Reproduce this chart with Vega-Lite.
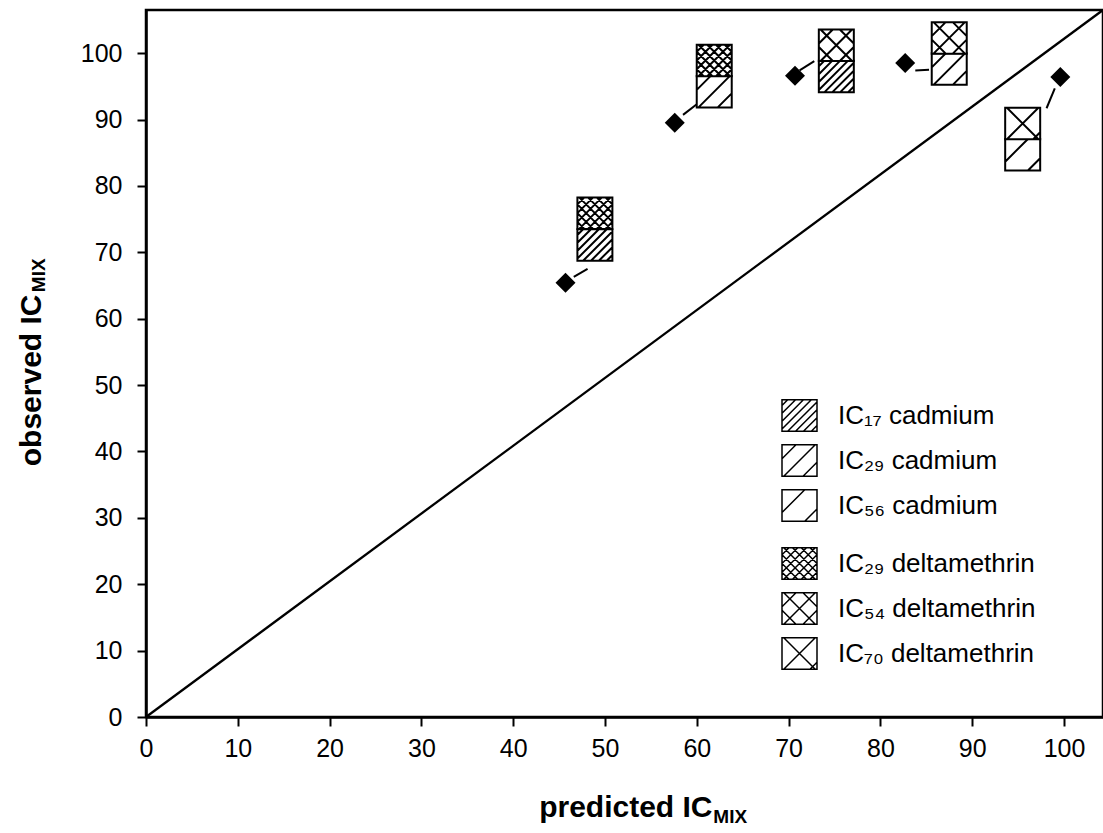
{
  "$schema": "https://vega.github.io/schema/vega-lite/v6.json",
  "autosize": "none",
  "width": 957,
  "height": 707,
  "padding": {"left": 146, "top": 10, "right": 0, "bottom": 116},
  "background": "white",
  "config": {
    "font": "Liberation Sans",
    "view": {"stroke": "black", "strokeWidth": 2.5},
    "axis": {
      "grid": false,
      "domainColor": "black",
      "domainWidth": 2.5,
      "tickColor": "black",
      "tickWidth": 2,
      "tickSize": 9,
      "labelColor": "black",
      "labelFontSize": 25,
      "labelFont": "Liberation Sans",
      "labelFlush": false,
      "labelOverlap": false,
      "titleColor": "black",
      "titleFont": "Liberation Sans",
      "titleFontSize": 30,
      "titleFontWeight": "bold"
    },
    "legend": {
      "labelFont": "Liberation Sans",
      "labelFontSize": 26,
      "labelColor": "black",
      "labelLimit": 400
    }
  },
  "data": {"values": [{}]},
  "datasets": {
    "diagonal": [
      {"pred": 0, "obs": 0},
      {"pred": 104.25, "obs": 106.5}
    ],
    "links": [
      {"pred": 46.6, "obs": 66.3, "pred2": 48.1, "obs2": 67.5},
      {"pred": 58.5, "obs": 90.7, "pred2": 60.0, "obs2": 92.3},
      {"pred": 71.2, "obs": 97.4, "pred2": 72.8, "obs2": 98.8},
      {"pred": 83.8, "obs": 97.4, "pred2": 85.3, "obs2": 97.5},
      {"pred": 99.0, "obs": 94.7, "pred2": 98.1, "obs2": 91.7}
    ],
    "points": [
      {"pred": 45.7, "obs": 65.4},
      {"pred": 57.6, "obs": 89.5},
      {"pred": 70.7, "obs": 96.6},
      {"pred": 82.7, "obs": 98.5},
      {"pred": 99.6, "obs": 96.4}
    ],
    "cadmium": [
      {"pred": 48.9, "obs": 71.1, "agent": "IC₁₇ cadmium"},
      {"pred": 61.9, "obs": 94.2, "agent": "IC₂₉ cadmium"},
      {"pred": 75.2, "obs": 96.5, "agent": "IC₁₇ cadmium"},
      {"pred": 87.5, "obs": 97.6, "agent": "IC₂₉ cadmium"},
      {"pred": 95.5, "obs": 84.7, "agent": "IC₅₆ cadmium"}
    ],
    "deltamethrin": [
      {"pred": 48.9, "obs": 75.9, "agent": "IC₂₉ deltamethrin"},
      {"pred": 61.9, "obs": 98.9, "agent": "IC₂₉ deltamethrin"},
      {"pred": 75.2, "obs": 101.2, "agent": "IC₅₄ deltamethrin"},
      {"pred": 87.5, "obs": 102.3, "agent": "IC₅₄ deltamethrin"},
      {"pred": 95.5, "obs": 89.4, "agent": "IC₇₀ deltamethrin"}
    ]
  },
  "encoding": {
    "x": {
      "type": "quantitative",
      "scale": {"domain": [0, 104.25], "nice": false, "zero": false},
      "axis": {
        "values": [0, 10, 20, 30, 40, 50, 60, 70, 80, 90, 100],
        "title": "predicted IC",
        "titleAlign": "right",
        "titleAnchor": "start",
        "titleX": 566,
        "titleY": 99,
        "titleBaseline": "alphabetic",
        "labelPadding": 10
      }
    },
    "y": {
      "type": "quantitative",
      "scale": {"domain": [0, 106.5], "nice": false, "zero": false},
      "axis": {
        "values": [0, 10, 20, 30, 40, 50, 60, 70, 80, 90, 100],
        "title": "observed IC",
        "titleAngle": 270,
        "titleAlign": "right",
        "titleAnchor": "start",
        "titleX": -106,
        "titleY": 284,
        "titleBaseline": "alphabetic",
        "labelPadding": 15
      }
    }
  },
  "layer": [
    {
      "data": {"name": "diagonal"},
      "mark": {"type": "line", "stroke": "black", "strokeWidth": 2.3},
      "encoding": {
        "x": {"field": "pred"},
        "y": {"field": "obs"}
      }
    },
    {
      "data": {"name": "links"},
      "mark": {"type": "rule", "stroke": "black", "strokeWidth": 2},
      "encoding": {
        "x": {"field": "pred"},
        "y": {"field": "obs"},
        "x2": {"field": "pred2"},
        "y2": {"field": "obs2"}
      }
    },
    {
      "data": {"name": "points"},
      "mark": {"type": "point", "shape": "diamond", "filled": true, "color": "black", "opacity": 1, "size": 400},
      "encoding": {
        "x": {"field": "pred"},
        "y": {"field": "obs"}
      }
    },
    {
      "data": {"name": "cadmium"},
      "mark": {"type": "point", "filled": true, "fill": "white", "stroke": "black", "strokeWidth": 2, "opacity": 1, "size": 1225},
      "encoding": {
        "x": {"field": "pred"},
        "y": {"field": "obs"},
        "shape": {
          "field": "agent",
          "type": "nominal",
          "scale": {
            "domain": ["IC₁₇ cadmium", "IC₂₉ cadmium", "IC₅₆ cadmium"],
            "range": [
              "M-1,-0.9H1V0.9H-1ZM-1,-0.575L-0.675,-0.9M-1,-0.125L-0.225,-0.9M-1,0.325L0.225,-0.9M-1,0.775L0.675,-0.9M-0.675,0.9L1,-0.775M-0.225,0.9L1,-0.325M0.225,0.9L1,0.125M0.675,0.9L1,0.575",
              "M-1,-0.9H1V0.9H-1ZM-1,-0.1L-0.2,-0.9M-0.9,0.9L0.9,-0.9M0.2,0.9L1,0.1",
              "M-1,-0.9H1V0.9H-1ZM-1,0.4L0.3,-0.9M0.3,0.9L1,0.2"
            ]
          },
          "legend": {
            "title": null,
            "orient": "none",
            "legendX": 635,
            "legendY": 387,
            "padding": 0,
            "symbolSize": 1225,
            "labelOffset": 20,
            "rowPadding": 6,
            "encode": {
              "symbols": {
                "update": {
                  "fill": {"value": "white"},
                  "stroke": {"value": "black"},
                  "strokeWidth": {"value": 2},
                  "opacity": {"value": 1},
                  "fillOpacity": {"value": 1},
                  "strokeOpacity": {"value": 1}
                }
              }
            }
          }
        }
      }
    },
    {
      "data": {"name": "deltamethrin"},
      "mark": {"type": "point", "filled": true, "fill": "white", "stroke": "black", "strokeWidth": 2, "opacity": 1, "size": 1225},
      "encoding": {
        "x": {"field": "pred"},
        "y": {"field": "obs"},
        "shape": {
          "field": "agent",
          "type": "nominal",
          "scale": {
            "domain": ["IC₂₉ deltamethrin", "IC₅₄ deltamethrin", "IC₇₀ deltamethrin"],
            "range": [
              "M-1,-0.9H1V0.9H-1ZM-1,-0.5L-0.6,-0.9M-1,0L-0.1,-0.9M-1,0.5L0.4,-0.9M-0.9,0.9L0.9,-0.9M-0.4,0.9L1,-0.5M0.1,0.9L1,0M0.6,0.9L1,0.5M0.6,-0.9L1,-0.5M0.1,-0.9L1,0M-0.4,-0.9L1,0.5M-0.9,-0.9L0.9,0.9M-1,-0.5L0.4,0.9M-1,0L-0.1,0.9M-1,0.5L-0.6,0.9",
              "M-1,-0.9H1V0.9H-1ZM-1,-0.1L-0.2,-0.9M-0.9,0.9L0.9,-0.9M0.2,0.9L1,0.1M0.2,-0.9L1,-0.1M-0.9,-0.9L0.9,0.9M-1,0.1L-0.2,0.9",
              "M-1,-0.9H1V0.9H-1ZM-0.9,0.9L0.9,-0.9M0.6,0.9L1,0.5M-0.9,-0.9L0.9,0.9"
            ]
          },
          "legend": {
            "title": null,
            "orient": "none",
            "legendX": 635,
            "legendY": 535,
            "padding": 0,
            "symbolSize": 1225,
            "labelOffset": 20,
            "rowPadding": 6,
            "encode": {
              "symbols": {
                "update": {
                  "fill": {"value": "white"},
                  "stroke": {"value": "black"},
                  "strokeWidth": {"value": 2},
                  "opacity": {"value": 1},
                  "fillOpacity": {"value": 1},
                  "strokeOpacity": {"value": 1}
                }
              }
            }
          }
        }
      }
    },
    {
      "mark": {"type": "text", "text": "MIX", "font": "Liberation Sans", "fontWeight": "bold", "fontSize": 19, "align": "left", "baseline": "alphabetic", "color": "black"},
      "encoding": {
        "x": {"datum": 61.8},
        "y": {"datum": -16.0}
      }
    },
    {
      "mark": {"type": "text", "text": "MIX", "font": "Liberation Sans", "fontWeight": "bold", "fontSize": 19, "align": "left", "baseline": "alphabetic", "angle": 270, "color": "black"},
      "encoding": {
        "x": {"datum": -11.0},
        "y": {"datum": 64.0}
      }
    }
  ],
  "resolve": {"scale": {"shape": "independent"}, "legend": {"shape": "independent"}}
}
